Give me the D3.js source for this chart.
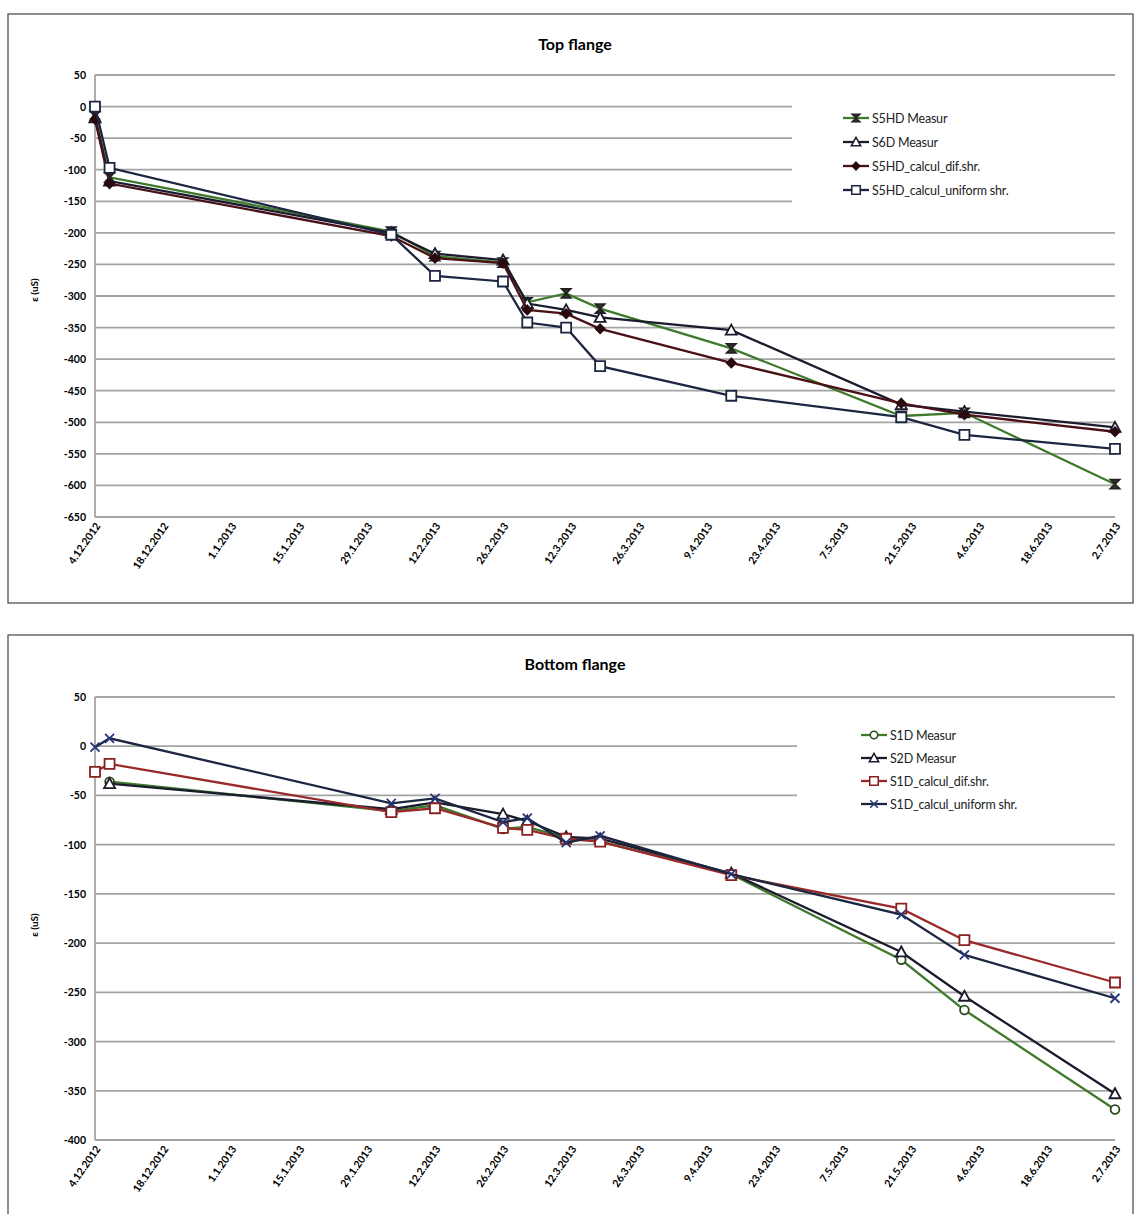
<!DOCTYPE html>
<html>
<head>
<meta charset="utf-8">
<script src="https://cdn.jsdelivr.net/npm/d3@7"></script>
<style>
  body { margin: 0; background: #fff; }
  svg { display: block; font-family: Lato, "Open Sans", sans-serif; }
</style>
</head>
<body>
<svg id="chart" width="1134" height="1214"></svg>
<script>
// x tick labels (every 14 days) and measurement dates
const tickLabels = ["4.12.2012", "18.12.2012", "1.1.2013", "15.1.2013", "29.1.2013", "12.2.2013", "26.2.2013",
  "12.3.2013", "26.3.2013", "9.4.2013", "23.4.2013", "7.5.2013", "21.5.2013", "4.6.2013", "18.6.2013", "2.7.2013"];
const pointDates = ["4.12.2012", "7.12.2012", "3.2.2013", "12.2.2013", "26.2.2013", "3.3.2013", "11.3.2013",
  "18.3.2013", "14.4.2013", "19.5.2013", "1.6.2013", "2.7.2013"];

// top flange
const topNames = ["S5HD Measur", "S6D Measur", "S5HD_calcul_dif.shr.", "S5HD_calcul_uniform shr."];
const topS5HDMeasur = [-15, -112, -198, -237, -247, -310, -296, -320, -383, -490, -485, -598];
const topS6DMeasur = [-18, -118, -200, -233, -243, -312, -322, -334, -354, -472, -483, -508];
const topS5HDDif = [-20, -122, -205, -240, -248, -322, -328, -352, -406, -470, -488, -515];
const topS5HDUniform = [0, -97, -203, -268, -277, -342, -350, -411, -458, -492, -520, -542];
const topYTicks = [50, 0, -50, -100, -150, -200, -250, -300, -350, -400, -450, -500, -550, -600, -650];

// bottom flange (measured series start on 7.12.2012)
const bottomNames = ["S1D Measur", "S2D Measur", "S1D_calcul_dif.shr.", "S1D_calcul_uniform shr."];
const bottomS1DMeasur = [null, -36, -66, -60, -84, -82, -93, -97, -130, -217, -268, -369];
const bottomS2DMeasur = [null, -38, -64, -57, -69, -76, -92, -94, -129, -209, -254, -353];
const bottomS1DDif = [-26, -18, -67, -63, -83, -85, -94, -97, -131, -165, -197, -240];
const bottomS1DUniform = [-1, 8, -58, -53, -77, -73, -98, -91, -130, -171, -212, -256];
const bottomYTicks = [50, 0, -50, -100, -150, -200, -250, -300, -350, -400];

const parseDate = d3.timeParse("%d.%m.%Y");
const svg = d3.select("#chart");

function markerPath(type) {
  if (type == "hourglass") return "M-4.5,-4.5L4.5,-4.5L-4.5,4.5L4.5,4.5Z";
  if (type == "times") return "M-4.5,-4.5L4.5,4.5M-4.5,4.5L4.5,-4.5";
  if (type == "triangle") return "M0,-5.5L5.5,4.5L-5.5,4.5Z";
  if (type == "diamond") return "M0,-4.5L4.5,0L0,4.5L-4.5,0Z";
  if (type == "square") return "M-5,-5H5V5H-5Z";
  return d3.symbol(d3.symbolCircle, 60)();
}

function drawChart(cfg) {
  const g = svg.append("g");

  g.append("rect")
    .attr("x", cfg.frame[0]).attr("y", cfg.frame[1])
    .attr("width", cfg.frame[2]).attr("height", cfg.frame[3])
    .attr("fill", "#fff").attr("stroke", "#444").attr("stroke-width", 1.2);

  g.append("text")
    .attr("x", 575).attr("y", cfg.titleY)
    .attr("text-anchor", "middle")
    .attr("font-size", 16).attr("font-weight", "bold")
    .text(cfg.title);

  const x = d3.scaleTime()
    .domain([parseDate(tickLabels[0]), parseDate(tickLabels[tickLabels.length - 1])])
    .range([95, 1115]);
  const y = d3.scaleLinear().domain(cfg.yDomain).range(cfg.yRange);

  // gridlines
  g.append("g").selectAll("line").data(cfg.yTicks).join("line")
    .attr("x1", 95).attr("x2", 1115)
    .attr("y1", d => y(d)).attr("y2", d => y(d))
    .attr("stroke", "#a4a4a4").attr("stroke-width", 1.8);

  // y axis line
  g.append("line")
    .attr("x1", 95).attr("x2", 95)
    .attr("y1", y(cfg.yDomain[1])).attr("y2", y(cfg.yDomain[0]))
    .attr("stroke", "#a4a4a4").attr("stroke-width", 1.8);

  g.append("g").selectAll("text").data(cfg.yTicks).join("text")
    .attr("x", 86).attr("y", d => y(d) + 4)
    .attr("text-anchor", "end")
    .attr("font-size", 10.5).attr("font-weight", "bold")
    .text(d => d);

  g.append("text")
    .attr("transform", `translate(38,${cfg.yTitle}) rotate(-90)`)
    .attr("text-anchor", "middle")
    .attr("font-size", 10).attr("font-weight", "bold")
    .text("ε (uS)");

  const axisY = y(cfg.yDomain[0]);
  g.append("g").selectAll("text").data(tickLabels).join("text")
    .attr("transform", d => `translate(${x(parseDate(d)) + 6},${axisY + 9}) rotate(-55)`)
    .attr("text-anchor", "end")
    .attr("font-size", 10.5).attr("font-weight", "bold")
    .text(d => d);

  // legend box hides part of the gridlines
  g.append("rect")
    .attr("x", cfg.legendBox[0]).attr("y", cfg.legendBox[1])
    .attr("width", cfg.legendBox[2]).attr("height", cfg.legendBox[3])
    .attr("fill", "#fff");

  const line = d3.line()
    .defined(d => d.v != null)
    .x(d => x(d.date)).y(d => y(d.v));

  cfg.series.forEach((s, i) => {
    const pts = s.values.map((v, j) => ({ date: parseDate(pointDates[j]), v: v }));
    g.append("path")
      .datum(pts)
      .attr("d", line)
      .attr("fill", "none")
      .attr("stroke", s.color)
      .attr("stroke-width", 2.3);

    g.append("g").selectAll("path").data(pts.filter(d => d.v != null)).join("path")
      .attr("transform", d => `translate(${x(d.date)},${y(d.v)})`)
      .attr("d", markerPath(s.marker))
      .attr("fill", s.fill)
      .attr("stroke", s.mstroke)
      .attr("stroke-width", 1.8);

    // legend entry
    const ly = cfg.legendY + i * cfg.legendStep;
    g.append("line")
      .attr("x1", cfg.legendX).attr("x2", cfg.legendX + 26)
      .attr("y1", ly).attr("y2", ly)
      .attr("stroke", s.color).attr("stroke-width", 2.3);
    g.append("path")
      .attr("transform", `translate(${cfg.legendX + 13},${ly}) scale(0.85)`)
      .attr("d", markerPath(s.marker))
      .attr("fill", s.fill)
      .attr("stroke", s.mstroke)
      .attr("stroke-width", 1.8);
    g.append("text")
      .attr("x", cfg.legendX + 29).attr("y", ly + 4.5)
      .attr("font-size", 12.5).attr("fill", "#222")
      .attr("letter-spacing", -0.2)
      .text(cfg.names[i]);
  });
}

drawChart({
  title: "Top flange",
  titleY: 50,
  frame: [8, 14, 1125, 589],
  yDomain: [-650, 50],
  yRange: [517, 75],
  yTicks: topYTicks,
  yTitle: 290,
  legendBox: [792, 88, 325, 127],
  legendX: 843,
  legendY: 118,
  legendStep: 24,
  names: topNames,
  series: [
    { values: topS5HDMeasur, color: "#3d7a2c", marker: "hourglass", fill: "#333", mstroke: "#222" },
    { values: topS6DMeasur, color: "#1b1b2e", marker: "triangle", fill: "#fff", mstroke: "#1b1b2e" },
    { values: topS5HDDif, color: "#4a1018", marker: "diamond", fill: "#2a0a0e", mstroke: "#2a0a0e" },
    { values: topS5HDUniform, color: "#1c2640", marker: "square", fill: "#fff", mstroke: "#1c2640" }
  ]
});

drawChart({
  title: "Bottom flange",
  titleY: 670,
  frame: [8, 635, 1125, 600],
  yDomain: [-400, 50],
  yRange: [1140, 697],
  yTicks: bottomYTicks,
  yTitle: 925,
  legendBox: [797, 722, 320, 100],
  legendX: 861,
  legendY: 735,
  legendStep: 23,
  names: bottomNames,
  series: [
    { values: bottomS1DMeasur, color: "#3d7a2c", marker: "circle", fill: "#fff", mstroke: "#2b4a22" },
    { values: bottomS2DMeasur, color: "#1b1b2e", marker: "triangle", fill: "#fff", mstroke: "#1b1b2e" },
    { values: bottomS1DDif, color: "#9a2a2a", marker: "square", fill: "#fff", mstroke: "#8a1f1f" },
    { values: bottomS1DUniform, color: "#1c2640", marker: "times", fill: "none", mstroke: "#26367a" }
  ]
});
</script>
</body>
</html>
